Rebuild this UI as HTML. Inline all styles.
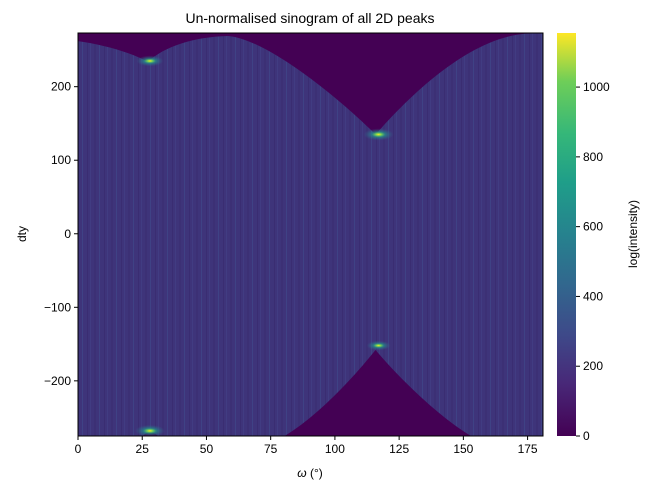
<!DOCTYPE html>
<html><head><meta charset="utf-8"><style>
body{margin:0;background:#fff;}
svg text{font-family:"Liberation Sans","DejaVu Sans",sans-serif;fill:#000;}
</style></head><body>
<svg id="chart" width="650" height="491" viewBox="0 0 650 491" xmlns="http://www.w3.org/2000/svg">
<defs>
<linearGradient id="viridis" x1="0" y1="1" x2="0" y2="0">
<stop offset="0" stop-color="#440154"/><stop offset="0.13" stop-color="#482878"/>
<stop offset="0.25" stop-color="#3e4989"/><stop offset="0.38" stop-color="#31688e"/>
<stop offset="0.5" stop-color="#26828e"/><stop offset="0.63" stop-color="#1f9e89"/>
<stop offset="0.75" stop-color="#35b779"/><stop offset="0.88" stop-color="#6ece58"/>
<stop offset="1" stop-color="#fde725"/></linearGradient>
<radialGradient id="glow"><stop offset="0" stop-color="#fde725"/><stop offset="0.2" stop-color="#6ece58"/><stop offset="0.45" stop-color="#21918c" stop-opacity="0.7"/><stop offset="1" stop-color="#31688e" stop-opacity="0"/></radialGradient>
<pattern id="streaks" width="17" height="53" patternUnits="userSpaceOnUse">
<rect width="17" height="53" fill="#3e347a"/><rect x="2" width="1" height="53" fill="#3a2d72"/><rect x="5" width="1" height="53" fill="#413c82"/><rect x="9" width="2" height="53" fill="#3c3075"/><rect x="14" width="1" height="53" fill="#3f4285"/></pattern>
<clipPath id="plotclip"><rect x="78" y="33" width="465" height="403"/></clipPath>
</defs>
<g id="plot" clip-path="url(#plotclip)"></g>
<g id="axes"></g>
<text x="310" y="23" text-anchor="middle" font-size="14">Un-normalised sinogram of all 2D peaks</text>
<text x="310" y="477" text-anchor="middle" font-size="12"><tspan font-style="italic">ω</tspan> (°)</text>
<text x="0" y="0" transform="translate(26,234) rotate(-90)" text-anchor="middle" font-size="12">dty</text>
<rect x="557" y="33" width="19" height="403" fill="url(#viridis)"/>
<text x="0" y="0" transform="translate(637,234) rotate(-90)" text-anchor="middle" font-size="12">log(intensity)</text>
</svg>
<script>
const xTicks=[0,25,50,75,100,125,150,175];
const yTicks=[-200,-100,0,100,200];
const cTicks=[0,200,400,600,800,1000];
const xDomain=[0,181], yDomain=[-275,273], cMax=1155;
const peakOmega=[28,117,117,28];
const peakDty=[235,135,-152,-268];
const peakSize=[9,10,8,10];
const NS="http://www.w3.org/2000/svg";
const X0=78,X1=543,Y0=436,Y1=33;
const sx=v=>X0+(v-xDomain[0])/(xDomain[1]-xDomain[0])*(X1-X0);
const sy=v=>Y0-(v-yDomain[0])/(yDomain[1]-yDomain[0])*(Y0-Y1);
const sc=v=>436-v/cMax*403;
function mk(t,a,p){const e=document.createElementNS(NS,t);for(const k in a)e.setAttribute(k,a[k]);p.appendChild(e);return e;}
const P=(w,d)=>sx(w)+','+sy(d);
const plot=document.getElementById('plot'),axes=document.getElementById('axes');
const bg=mk('rect',{x:X0,y:Y1,width:X1-X0,height:Y0-Y1,fill:'url(#streaks)'},plot);


const dark='#440154';
const topRegion=mk('path',{fill:dark,d:`M${P(0,273)} L${P(0,262)} C${P(10.4,257)} ${P(20.8,246)} ${P(27.2,234)} C${P(33.7,255)} ${P(45.4,268)} ${P(58.4,269)} C${P(75.2,264)} ${P(106.3,169)} ${P(115.8,135)} C${P(124.5,169)} ${P(149.1,264)} ${P(173.8,272)} L${P(181,273)}Z`},plot);


const botRegion=mk('path',{fill:dark,d:`M${P(80.4,-275)} C${P(93.4,-248)} ${P(107.6,-194)} ${P(115.8,-158)} C${P(124.5,-194)} ${P(140,-248)} ${P(153,-275)}Z`},plot);


const blRegion=mk('path',{fill:dark,d:`M${P(25.3,-275)} Q${P(27.9,-264)} ${P(31.1,-275)}Z`},plot);


peakOmega.forEach((w,i)=>{
 const c=mk('ellipse',{cx:sx(w),cy:sy(peakDty[i]),rx:peakSize[i]*1.5,ry:peakSize[i]*0.6,fill:'url(#glow)'},plot);
 
 
});
mk('rect',{x:X0,y:Y1,width:X1-X0,height:Y0-Y1,fill:'none',stroke:'#000','stroke-width':1},axes);
xTicks.forEach(t=>{const x=sx(t);mk('line',{x1:x,x2:x,y1:Y0,y2:Y0+4,stroke:'#000'},axes);
 const tx=mk('text',{x:x,y:Y0+17,'text-anchor':'middle','font-size':12},axes);tx.textContent=t;
 
 });
yTicks.forEach(t=>{const y=sy(t);mk('line',{x1:X0-4,x2:X0,y1:y,y2:y,stroke:'#000'},axes);
 const tx=mk('text',{x:X0-7,y:y+4,'text-anchor':'end','font-size':12},axes);tx.textContent=t<0?'−'+(-t):t;
 
 });
cTicks.forEach(t=>{const y=sc(t);mk('line',{x1:576,x2:580,y1:y,y2:y,stroke:'#000'},axes);
 const tx=mk('text',{x:583,y:y+4,'font-size':12},axes);tx.textContent=t;
 
 });
</script>
</body></html>
